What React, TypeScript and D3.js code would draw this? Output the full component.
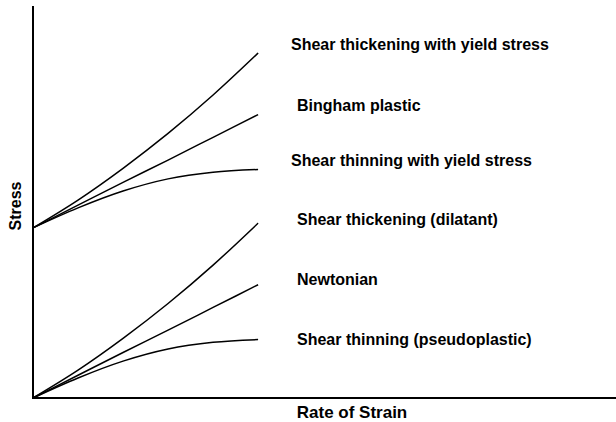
import * as d3 from 'd3';
import React from 'react';

// rate of strain (arbitrary units) at which stress was read
const rates = [0, 2, 4, 6, 8, 10];

// stress (arbitrary units)
const thickeningYield = [43.4, 50.5, 58.6, 67.5, 77.3, 88.0];
const bingham = [43.4, 49.2, 55.0, 60.7, 66.5, 72.3];
const thinningYield = [43.4, 48.5, 52.8, 55.9, 57.6, 58.3];
const dilatant = [0, 7.1, 15.2, 24.1, 33.9, 44.6];
const newtonian = [0, 5.8, 11.6, 17.3, 23.1, 28.9];
const pseudoplastic = [0, 5.1, 9.4, 12.5, 14.2, 14.9];

const labels = [
  'Shear thickening with yield stress',
  'Bingham plastic',
  'Shear thinning with yield stress',
  'Shear thickening (dilatant)',
  'Newtonian',
  'Shear thinning (pseudoplastic)',
];

const series = [thickeningYield, bingham, thinningYield, dilatant, newtonian, pseudoplastic];

const W = 616;
const H = 422;
const font = '"Liberation Sans", Arial, sans-serif';

export default function App() {
  const x = d3.scaleLinear().domain([0, 25.9]).range([33, 616]);
  const y = d3.scaleLinear().domain([0, 100]).range([398, 6]);

  const line = d3
    .line<[number, number]>()
    .x(d => x(d[0]))
    .y(d => y(d[1]))
    .curve(d3.curveMonotoneX);

  // label anchor: left x, baseline y
  const labelPos = [
    [291, 50],
    [297, 111],
    [291, 166],
    [297, 225],
    [297, 285],
    [297, 345],
  ];

  return (
    <svg
      width={W}
      height={H}
      style={{ position: 'absolute', left: 0, top: 0, background: '#fff' }}
      fontFamily={font}
    >
      {series.map((s, i) => (
        <path
          key={i}
          d={line(rates.map((r, j) => [r, s[j]] as [number, number])) ?? ''}
          fill="none"
          stroke="#000"
          strokeWidth={1.5}
        />
      ))}
      {/* axes */}
      <line x1={x(0)} x2={x(0)} y1={y(100)} y2={y(0)} stroke="#000" strokeWidth={2} />
      <line x1={x(0) - 1} x2={W} y1={y(0)} y2={y(0)} stroke="#000" strokeWidth={2} />

      {labels.map((t, i) => (
        <text key={t} x={labelPos[i][0]} y={labelPos[i][1]} fontSize={16} fontWeight="bold">
          {t}
        </text>
      ))}

      <text x={352} y={418} textAnchor="middle" fontSize={17} fontWeight="bold">
        Rate of Strain
      </text>
      <text
        transform={`translate(21,206) rotate(-90)`}
        textAnchor="middle"
        fontSize={16}
        fontWeight="bold"
      >
        Stress
      </text>
    </svg>
  );
}
